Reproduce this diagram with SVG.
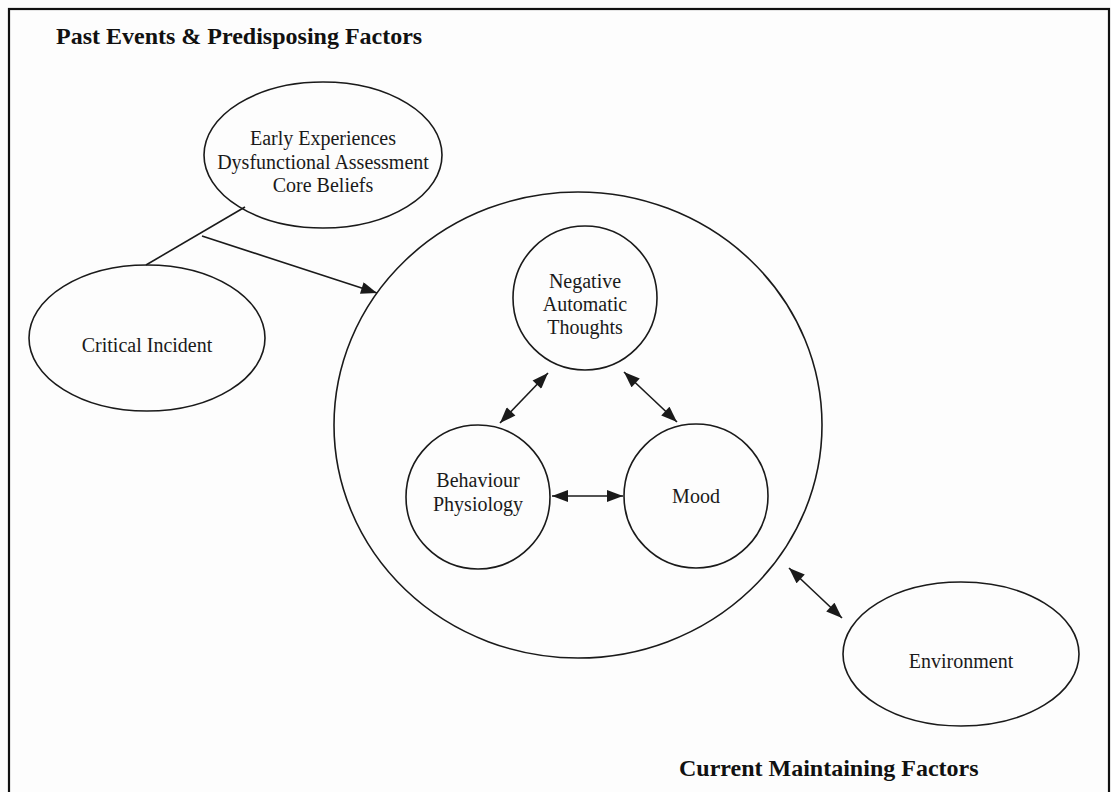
<svg xmlns="http://www.w3.org/2000/svg" width="1111" height="792" viewBox="0 0 1111 792">
  <style>
    .shape { fill: none; stroke: #1a1a1a; stroke-width: 1.6; }
    .lbl { font-family: "Liberation Serif", "Times New Roman", serif; font-size: 20px; fill: #1a1a1a; text-anchor: middle; }
    .title { font-family: "Liberation Serif", "Times New Roman", serif; font-size: 24px; font-weight: bold; fill: #111; }
    .conn { fill: none; stroke: #1a1a1a; stroke-width: 1.6; }
  </style>
  <defs>
    <marker id="ah" viewBox="0 0 16 12" refX="16" refY="6" markerWidth="17" markerHeight="12" markerUnits="userSpaceOnUse" orient="auto-start-reverse">
      <path d="M0,0 L16,6 L0,12 z" fill="#1a1a1a"/>
    </marker>
  </defs>
  <rect x="0" y="0" width="1111" height="792" fill="#fdfdfd"/>
  <rect x="9" y="9" width="1100" height="800" fill="none" stroke="#111" stroke-width="2.2"/>

  <text class="title" x="56" y="44">Past Events &amp; Predisposing Factors</text>
  <text class="title" x="679" y="776">Current Maintaining Factors</text>

  <g id="early-experiences">
    <ellipse class="shape" cx="323" cy="155" rx="119" ry="73"/>
    <text class="lbl" x="323" y="145">Early Experiences</text>
    <text class="lbl" x="323" y="169">Dysfunctional Assessment</text>
    <text class="lbl" x="323" y="192">Core Beliefs</text>
  </g>

  <g id="critical-incident">
    <ellipse class="shape" cx="147" cy="338" rx="118" ry="73"/>
    <text class="lbl" x="147" y="352">Critical Incident</text>
  </g>

  <g id="current-cycle">
    <ellipse class="shape" cx="578" cy="425" rx="244" ry="233"/>
  </g>

  <g id="negative-automatic-thoughts">
    <circle class="shape" cx="585" cy="298" r="72"/>
    <text class="lbl" x="585" y="288">Negative</text>
    <text class="lbl" x="585" y="311">Automatic</text>
    <text class="lbl" x="585" y="334">Thoughts</text>
  </g>

  <g id="behaviour-physiology">
    <circle class="shape" cx="478" cy="497" r="72"/>
    <text class="lbl" x="478" y="487">Behaviour</text>
    <text class="lbl" x="478" y="511">Physiology</text>
  </g>

  <g id="mood">
    <circle class="shape" cx="696" cy="496" r="72"/>
    <text class="lbl" x="696" y="503">Mood</text>
  </g>

  <g id="environment">
    <ellipse class="shape" cx="961" cy="654" rx="118" ry="72"/>
    <text class="lbl" x="961" y="668">Environment</text>
  </g>

  <g id="connectors">
    <line class="conn" x1="245" y1="207" x2="146" y2="265"/>
    <line class="conn" x1="202" y1="236" x2="377" y2="293" marker-end="url(#ah)"/>
    <line class="conn" x1="500" y1="423" x2="548" y2="373" marker-start="url(#ah)" marker-end="url(#ah)"/>
    <line class="conn" x1="624" y1="372" x2="677" y2="422" marker-start="url(#ah)" marker-end="url(#ah)"/>
    <line class="conn" x1="552" y1="496" x2="623" y2="496" marker-start="url(#ah)" marker-end="url(#ah)"/>
    <line class="conn" x1="789" y1="568" x2="842" y2="618" marker-start="url(#ah)" marker-end="url(#ah)"/>
  </g>
</svg>
